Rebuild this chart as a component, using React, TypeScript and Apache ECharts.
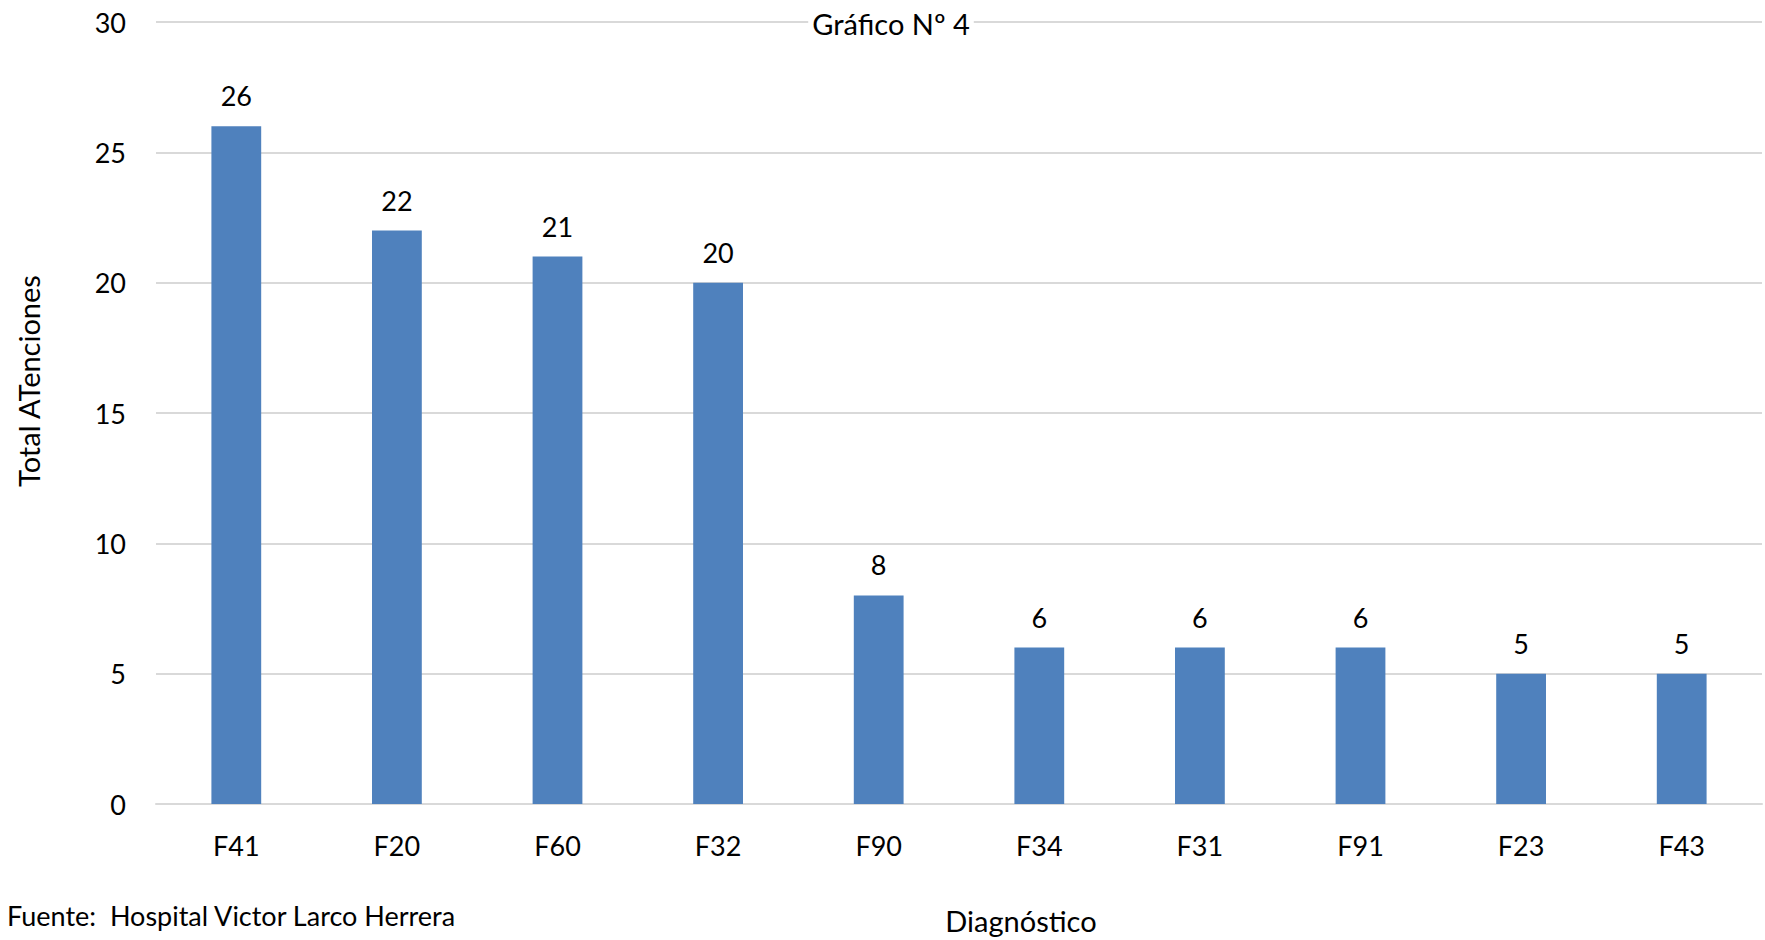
import React, { useEffect, useRef } from "react";
import * as echarts from "echarts";

const categories = ["F41", "F20", "F60", "F32", "F90", "F34", "F31", "F91", "F23", "F43"];
const values = [26, 22, 21, 20, 8, 6, 6, 6, 5, 5];
const yTicks = { min: 0, max: 30, interval: 5 };
const titleText = "Gráfico Nº 4";
const xAxisName = "Diagnóstico";
const yAxisName = "Total ATenciones";
const sourceText = "Fuente:  Hospital Victor Larco Herrera";

const FONT = "Lato, 'Open Sans', sans-serif";
const TEXT_COLOR = "#000000";

export default function App() {
  const ref = useRef<HTMLDivElement>(null);
  useEffect(() => {
    if (!ref.current) return;
    const chart = echarts.init(ref.current, null, { renderer: "svg" });
    chart.setOption({
      animation: false,
      backgroundColor: "#ffffff",
      textStyle: { fontFamily: FONT },
      grid: { left: 156, right: 3, top: 22, bottom: 136 },
      xAxis: {
        type: "category",
        data: categories,
        axisLine: { show: true, lineStyle: { color: "#D9D9D9", width: 2 } },
        axisTick: { show: false },
        axisLabel: { color: TEXT_COLOR, fontSize: 27, fontFamily: FONT, margin: 28 },
      },
      yAxis: {
        type: "value",
        min: yTicks.min,
        max: yTicks.max,
        interval: yTicks.interval,
        axisLine: { show: false },
        axisTick: { show: false },
        splitLine: { show: true, lineStyle: { color: "#D9D9D9", width: 2 } },
        axisLabel: { color: TEXT_COLOR, fontSize: 27, fontFamily: FONT, margin: 30 },
      },
      series: [
        {
          type: "bar",
          data: values,
          barWidth: "31%",
          itemStyle: { color: "#4F81BD" },
          label: {
            show: true,
            position: "top",
            distance: 17,
            color: TEXT_COLOR,
            fontSize: 27,
            fontFamily: FONT,
          },
        },
      ],
      graphic: [
        {
          type: "text",
          x: 891,
          y: 23,
          z: 100,
          style: {
            text: titleText,
            fill: TEXT_COLOR,
            fontSize: 29,
            fontFamily: FONT,
            textAlign: "center",
            textVerticalAlign: "middle",
            backgroundColor: "#ffffff",
            padding: [0, 4],
          },
        },
        {
          type: "text",
          x: 1021,
          y: 920,
          style: {
            text: xAxisName,
            fill: TEXT_COLOR,
            fontSize: 29,
            fontFamily: FONT,
            textAlign: "center",
            textVerticalAlign: "middle",
          },
        },
        {
          type: "text",
          x: 28,
          y: 381,
          rotation: Math.PI / 2,
          style: {
            text: yAxisName,
            fill: TEXT_COLOR,
            fontSize: 29,
            fontFamily: FONT,
            textAlign: "center",
            textVerticalAlign: "middle",
          },
        },
        {
          type: "text",
          x: 7,
          y: 915,
          style: {
            text: sourceText,
            fill: TEXT_COLOR,
            fontSize: 27,
            fontFamily: FONT,
            textAlign: "left",
            textVerticalAlign: "middle",
          },
        },
      ],
    });
    return () => chart.dispose();
  }, []);
  return (
    <div
      ref={ref}
      style={{ position: "fixed", left: 0, top: 0, width: 1765, height: 940 }}
    />
  );
}
